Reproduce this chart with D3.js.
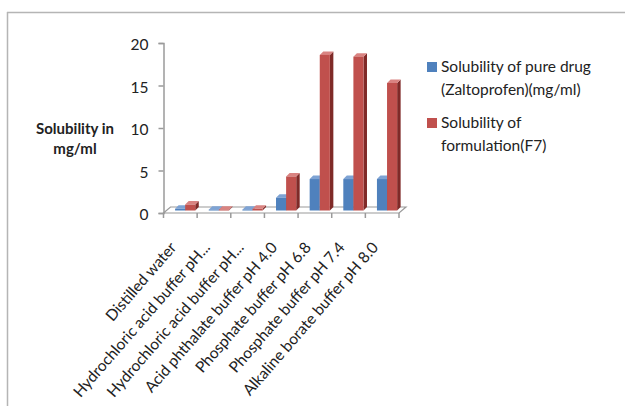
<!DOCTYPE html>
<html><head><meta charset="utf-8">
<script src="https://cdn.jsdelivr.net/npm/d3@7"></script>
<style>body{margin:0;background:#fff}svg{display:block}text{font-family:Lato,"Open Sans",sans-serif}</style>
</head><body>
<svg id="c" width="625" height="406"></svg>
<script>
const categories = ["Distilled water","Hydrochloric acid buffer pH...","Hydrochloric acid buffer pH...","Acid phthalate buffer pH 4.0","Phosphate buffer pH 6.8","Phosphate buffer pH 7.4","Alkaline borate buffer pH 8.0"];
const pureDrug = [0.2, 0.1, 0.1, 1.5, 3.7, 3.7, 3.7];
const formulationF7 = [0.7, 0.1, 0.2, 4.0, 18.3, 18.1, 15.0];
const yTicks = [0, 5, 10, 15, 20];
const seriesNames = [["Solubility of pure drug","(Zaltoprofen)(mg/ml)"],["Solubility of","formulation(F7)"]];
const colors = [{front:"#4f81bd",side:"#2f5a8e",top:"#7ea3d4"},{front:"#c0504d",side:"#7f2a28",top:"#d98381"}];

const svg = d3.select("#c");
// frame
svg.append("line").attr("x1",7).attr("x2",625).attr("y1",12.5).attr("y2",12.5).attr("stroke","#b5b5b5").attr("stroke-width",1.5);
svg.append("line").attr("x1",7.5).attr("x2",7.5).attr("y1",12).attr("y2",406).attr("stroke","#b5b5b5").attr("stroke-width",1.5);

const y = d3.scaleLinear().domain([0,20]).range([213,43]);
const x = d3.scaleBand().domain(d3.range(categories.length)).range([163.5,399]).padding(0);
const dx = 7, dy = -6;

// floor
const x0 = x.range()[0], x1 = x.range()[1], yb = y(0);
svg.append("path").attr("d",`M${x0},${yb}L${x1},${yb}L${x1+dx},${yb+dy}L${x0+dx},${yb+dy}Z`)
  .attr("fill","#fff").attr("stroke","#9a9a9a").attr("stroke-width",1.2);

// y axis
const yAxis = d3.axisLeft(y).tickValues(yTicks).tickSize(5).tickPadding(10);
const gy = svg.append("g").attr("transform",`translate(${x0},0)`).call(yAxis);
gy.select(".domain").attr("stroke","#9a9a9a").attr("stroke-width",1.5);
gy.selectAll(".tick line").attr("stroke","#9a9a9a").attr("stroke-width",1.5);
gy.selectAll("text").attr("font-size",15.5).attr("fill","#222").attr("dy","0.45em");

// x axis ticks (category boundaries)
const bounds = categories.map((c,i)=>x(i)).concat([x1]);
svg.append("g").selectAll("line").data(bounds).join("line")
  .attr("x1",d=>d).attr("x2",d=>d).attr("y1",yb).attr("y2",yb+5)
  .attr("stroke","#9a9a9a").attr("stroke-width",1.5);

// bars
const bw = x.bandwidth();
const barW = bw*0.3, depth = 3.5;
const series = [pureDrug, formulationF7];
series.forEach((vals,s)=>{
  const g = svg.append("g");
  vals.forEach((v,i)=>{
    const bx = x(i) + bw*0.3 + s*barW + 1.5;
    const by0 = yb - 2.5;
    const by = y(v) - 2.5;
    const c = colors[s];
    g.append("path").attr("d",`M${bx+barW},${by0}L${bx+barW+depth},${by0-depth}L${bx+barW+depth},${by-depth}L${bx+barW},${by}Z`).attr("fill",c.side);
    g.append("path").attr("d",`M${bx},${by}L${bx+barW},${by}L${bx+barW+depth},${by-depth}L${bx+depth},${by-depth}Z`).attr("fill",c.top);
    g.append("rect").attr("x",bx).attr("y",by).attr("width",barW).attr("height",Math.max(0.8,by0-by)).attr("fill",c.front);
  });
});

// category labels
svg.append("g").selectAll("text").data(categories).join("text")
  .attr("transform",(d,i)=>`translate(${x(i)+bw/2-3},${yb+35}) rotate(-49)`)
  .attr("text-anchor","end").attr("font-size",15.5).attr("fill","#222").text(d=>d);

// y title
const yt = svg.append("text").attr("font-size",15).attr("font-weight","bold").attr("fill","#222").attr("text-anchor","middle");
yt.append("tspan").attr("x",75).attr("y",134).text("Solubility in");
yt.append("tspan").attr("x",75).attr("y",154).text("mg/ml");

// legend
const leg = svg.append("g");
const legY = [62, 118];
seriesNames.forEach((lines,s)=>{
  leg.append("rect").attr("x",427).attr("y",legY[s]).attr("width",10).attr("height",10).attr("fill",colors[s].front);
  lines.forEach((t,k)=>{
    leg.append("text").attr("x",441).attr("y",legY[s]+10+k*23).attr("font-size",15.5).attr("fill","#222").text(t);
  });
});
</script>
</body></html>
